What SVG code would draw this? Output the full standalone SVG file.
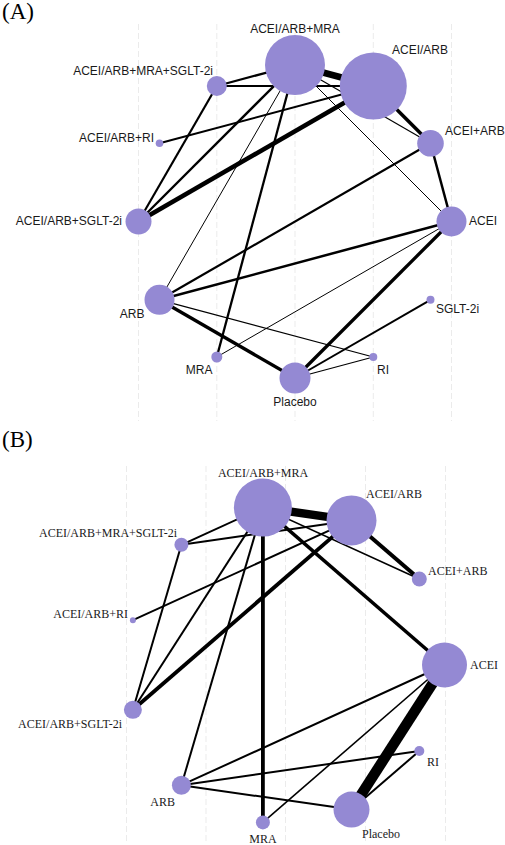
<svg xmlns="http://www.w3.org/2000/svg" width="505" height="845" viewBox="0 0 505 845">
<style>
.grid{stroke:#ebebeb;stroke-width:1;stroke-dasharray:6 3;fill:none}
.e{stroke:#000;fill:none;stroke-linecap:butt}
.n{fill:#9489d3}
.la{font-family:"Liberation Sans",Arial,sans-serif;font-size:12px;fill:#1a1a1a}
.lb{font-family:"Liberation Serif","Times New Roman",serif;font-size:12px;fill:#1a1a1a}
.panel{font-family:"Liberation Serif","Times New Roman",serif;font-size:23px;fill:#000}
</style>
<rect width="505" height="845" fill="#fff"/>
<text class="panel" x="2" y="19">(A)</text>
<text class="panel" x="2" y="447">(B)</text>
<g id="gridA">
<line class="grid" x1="138.5" y1="24" x2="138.5" y2="421"/>
<line class="grid" x1="216.8" y1="24" x2="216.8" y2="421"/>
<line class="grid" x1="295" y1="24" x2="295" y2="421"/>
<line class="grid" x1="373.3" y1="24" x2="373.3" y2="421"/>
<line class="grid" x1="451.5" y1="24" x2="451.5" y2="421"/>
</g>
<g id="gridB">
<line class="grid" x1="126.5" y1="466" x2="126.5" y2="843"/>
<line class="grid" x1="206" y1="466" x2="206" y2="843"/>
<line class="grid" x1="285.5" y1="466" x2="285.5" y2="843"/>
<line class="grid" x1="365.5" y1="466" x2="365.5" y2="843"/>
<line class="grid" x1="445.5" y1="466" x2="445.5" y2="843"/>
</g>
<g id="edgesA">
<line class="e" x1="295" y1="65" x2="373.3" y2="86" stroke-width="6.5"/>
<line class="e" x1="295" y1="65" x2="216.8" y2="86" stroke-width="2.2"/>
<line class="e" x1="216.8" y1="86" x2="373.3" y2="86" stroke-width="2"/>
<line class="e" x1="216.8" y1="86" x2="138.5" y2="221.5" stroke-width="2.2"/>
<line class="e" x1="295" y1="65" x2="138.5" y2="221.5" stroke-width="2.3"/>
<line class="e" x1="295" y1="65" x2="159.5" y2="299.8" stroke-width="1"/>
<line class="e" x1="295" y1="65" x2="216.8" y2="357" stroke-width="2.3"/>
<line class="e" x1="373.3" y1="86" x2="138.5" y2="221.5" stroke-width="4.5"/>
<line class="e" x1="159.5" y1="143.3" x2="373.3" y2="86" stroke-width="2"/>
<line class="e" x1="295" y1="65" x2="430.5" y2="143.3" stroke-width="1.2"/>
<line class="e" x1="295" y1="65" x2="451.5" y2="221.5" stroke-width="1"/>
<line class="e" x1="373.3" y1="86" x2="430.5" y2="143.3" stroke-width="3.5"/>
<line class="e" x1="430.5" y1="143.3" x2="451.5" y2="221.5" stroke-width="2.5"/>
<line class="e" x1="430.5" y1="143.3" x2="159.5" y2="299.8" stroke-width="2.2"/>
<line class="e" x1="159.5" y1="299.8" x2="451.5" y2="221.5" stroke-width="2.5"/>
<line class="e" x1="159.5" y1="299.8" x2="373.3" y2="357" stroke-width="1.2"/>
<line class="e" x1="159.5" y1="299.8" x2="295" y2="378" stroke-width="3.3"/>
<line class="e" x1="451.5" y1="221.5" x2="216.8" y2="357" stroke-width="1"/>
<line class="e" x1="451.5" y1="221.5" x2="295" y2="378" stroke-width="3.3"/>
<line class="e" x1="430.5" y1="299.8" x2="295" y2="378" stroke-width="2"/>
<line class="e" x1="373.3" y1="357" x2="295" y2="378" stroke-width="1.2"/>
</g>
<g id="nodesA">
<g id="a-acei-arb-mra"><circle class="n" cx="295" cy="65" r="30"/><text class="la" x="295" y="33" text-anchor="middle">ACEI/ARB+MRA</text></g>
<g id="a-acei-arb"><circle class="n" cx="373.3" cy="86" r="33.5"/><text class="la" x="392" y="54">ACEI/ARB</text></g>
<g id="a-acei-plus-arb"><circle class="n" cx="430.5" cy="143.3" r="13.3"/><text class="la" x="445" y="135">ACEI+ARB</text></g>
<g id="a-acei"><circle class="n" cx="451.5" cy="221.5" r="15"/><text class="la" x="469" y="225">ACEI</text></g>
<g id="a-sglt2i"><circle class="n" cx="430.5" cy="299.8" r="4"/><text class="la" x="436" y="313">SGLT-2i</text></g>
<g id="a-ri"><circle class="n" cx="373.3" cy="357" r="4"/><text class="la" x="377" y="374">RI</text></g>
<g id="a-placebo"><circle class="n" cx="295" cy="378" r="15.5"/><text class="la" x="295" y="406" text-anchor="middle">Placebo</text></g>
<g id="a-mra"><circle class="n" cx="216.8" cy="357" r="5.5"/><text class="la" x="212.5" y="374" text-anchor="end">MRA</text></g>
<g id="a-arb"><circle class="n" cx="159.5" cy="299.8" r="15"/><text class="la" x="144.5" y="318" text-anchor="end">ARB</text></g>
<g id="a-acei-arb-sglt2i"><circle class="n" cx="138.5" cy="221.5" r="13"/><text class="la" x="122" y="225" text-anchor="end">ACEI/ARB+SGLT-2i</text></g>
<g id="a-acei-arb-ri"><circle class="n" cx="159.5" cy="143.3" r="3.8"/><text class="la" x="154" y="141.5" text-anchor="end">ACEI/ARB+RI</text></g>
<g id="a-acei-arb-mra-sglt2i"><circle class="n" cx="216.8" cy="86" r="10"/><text class="la" x="213" y="75" text-anchor="end">ACEI/ARB+MRA+SGLT-2i</text></g>
</g>
<g id="edgesB">
<line class="e" x1="262.9" y1="507.6" x2="351.5" y2="520.4" stroke-width="8.5"/>
<line class="e" x1="262.9" y1="507.6" x2="181.4" y2="544.8" stroke-width="2"/>
<line class="e" x1="351.5" y1="520.4" x2="181.4" y2="544.8" stroke-width="2"/>
<line class="e" x1="351.5" y1="520.4" x2="132.9" y2="620.2" stroke-width="2"/>
<line class="e" x1="262.9" y1="507.6" x2="419.3" y2="579" stroke-width="1.6"/>
<line class="e" x1="351.5" y1="520.4" x2="419.3" y2="579" stroke-width="4"/>
<line class="e" x1="262.9" y1="507.6" x2="444.5" y2="665" stroke-width="3.5"/>
<line class="e" x1="262.9" y1="507.6" x2="262.9" y2="822.4" stroke-width="3.8"/>
<line class="e" x1="351.5" y1="520.4" x2="132.9" y2="709.8" stroke-width="3.8"/>
<line class="e" x1="181.4" y1="544.8" x2="132.9" y2="709.8" stroke-width="2"/>
<line class="e" x1="262.9" y1="507.6" x2="132.9" y2="709.8" stroke-width="2"/>
<line class="e" x1="262.9" y1="507.6" x2="181.4" y2="785.2" stroke-width="2"/>
<line class="e" x1="181.4" y1="785.2" x2="444.5" y2="665" stroke-width="2"/>
<line class="e" x1="181.4" y1="785.2" x2="419.3" y2="751" stroke-width="2"/>
<line class="e" x1="181.4" y1="785.2" x2="351.5" y2="809.6" stroke-width="2"/>
<line class="e" x1="444.5" y1="665" x2="351.5" y2="809.6" stroke-width="10.5"/>
<line class="e" x1="444.5" y1="665" x2="262.9" y2="822.4" stroke-width="1.6"/>
<line class="e" x1="419.3" y1="751" x2="351.5" y2="809.6" stroke-width="2"/>
</g>
<g id="nodesB">
<g id="b-acei-arb-mra"><circle class="n" cx="262.9" cy="507.6" r="29"/><text class="lb" x="263" y="477" text-anchor="middle">ACEI/ARB+MRA</text></g>
<g id="b-acei-arb"><circle class="n" cx="351.5" cy="520.4" r="25"/><text class="lb" x="366" y="497.5">ACEI/ARB</text></g>
<g id="b-acei-plus-arb"><circle class="n" cx="419.3" cy="579" r="7.5"/><text class="lb" x="428" y="575">ACEI+ARB</text></g>
<g id="b-acei"><circle class="n" cx="444.5" cy="665" r="22.5"/><text class="lb" x="470" y="669">ACEI</text></g>
<g id="b-ri"><circle class="n" cx="419.3" cy="751" r="5"/><text class="lb" x="427" y="765.5">RI</text></g>
<g id="b-placebo"><circle class="n" cx="351.5" cy="809.6" r="18"/><text class="lb" x="362" y="838">Placebo</text></g>
<g id="b-mra"><circle class="n" cx="262.9" cy="822.4" r="7"/><text class="lb" x="263" y="842.5" text-anchor="middle">MRA</text></g>
<g id="b-arb"><circle class="n" cx="181.4" cy="785.2" r="9.5"/><text class="lb" x="175" y="806" text-anchor="end">ARB</text></g>
<g id="b-acei-arb-sglt2i"><circle class="n" cx="132.9" cy="709.8" r="9"/><text class="lb" x="122" y="727.5" text-anchor="end">ACEI/ARB+SGLT-2i</text></g>
<g id="b-acei-arb-ri"><circle class="n" cx="132.9" cy="620.2" r="3"/><text class="lb" x="128" y="618" text-anchor="end">ACEI/ARB+RI</text></g>
<g id="b-acei-arb-mra-sglt2i"><circle class="n" cx="181.4" cy="544.8" r="7"/><text class="lb" x="177" y="537" text-anchor="end">ACEI/ARB+MRA+SGLT-2i</text></g>
</g>
</svg>
